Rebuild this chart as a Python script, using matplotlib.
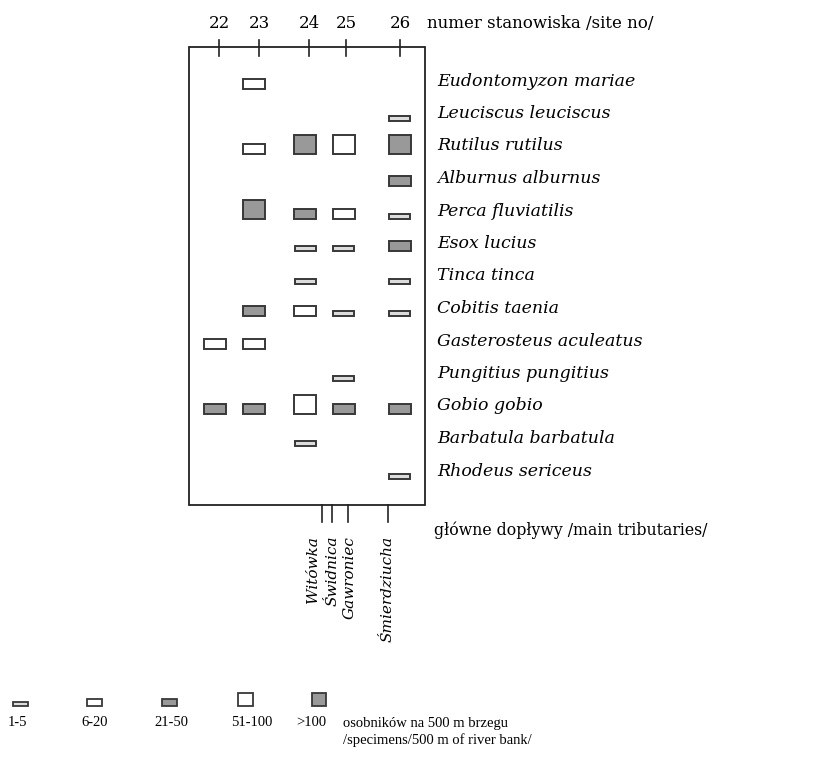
import matplotlib
matplotlib.use("Agg")
import matplotlib.pyplot as plt
from matplotlib.patches import Rectangle

# ---------------- data ----------------
sites = ["22", "23", "24", "25", "26"]
species = [
    "Eudontomyzon mariae", "Leuciscus leuciscus", "Rutilus rutilus",
    "Alburnus alburnus", "Perca fluviatilis", "Esox lucius", "Tinca tinca",
    "Cobitis taenia", "Gasterosteus aculeatus", "Pungitius pungitius",
    "Gobio gobio", "Barbatula barbatula", "Rhodeus sericeus",
]
# abundance class per site (0 = absent, 1:'1-5', 2:'6-20', 3:'21-50', 4:'51-100', 5:'>100')
eudontomyzon = [0, 2, 0, 0, 0]
leuciscus = [0, 0, 0, 0, 1]
rutilus = [0, 2, 5, 4, 5]
alburnus = [0, 0, 0, 0, 3]
perca = [0, 5, 3, 2, 1]
esox = [0, 0, 1, 1, 3]
tinca = [0, 0, 1, 0, 1]
cobitis = [0, 3, 2, 1, 1]
gasterosteus = [2, 2, 0, 0, 0]
pungitius = [0, 0, 0, 1, 0]
gobio = [3, 3, 4, 3, 3]
barbatula = [0, 0, 1, 0, 0]
rhodeus = [0, 0, 0, 0, 1]
abundance = [eudontomyzon, leuciscus, rutilus, alburnus, perca, esox, tinca,
             cobitis, gasterosteus, pungitius, gobio, barbatula, rhodeus]

class_labels = ["1-5", "6-20", "21-50", "51-100", ">100"]
tributaries = ["Witówka", "Świdnica", "Gawroniec", "Śmierdziucha"]

# ---------------- layout / style ----------------
W, H = 819, 764
site_tick_x = [219, 259, 309, 346, 400]
site_mark_x = [215, 254, 305, 343.5, 399.5]
trib_tick_x = [322, 332, 348, 388]
trib_text_x = [313, 333, 350, 388]
box = (189, 47, 425, 505)  # left, top, right, bottom


def row_bottom(i):
    return 88.5 + 32.5 * i


mark_size = {1: (21, 5), 2: (22, 10), 3: (22, 10), 4: (22, 19), 5: (22, 19)}
leg_size = {1: (15, 4), 2: (15, 7.5), 3: (15, 7.5), 4: (15, 13.5), 5: (14, 13.5)}
fills = {1: "#dcdcdc", 2: "white", 3: "#999999", 4: "white", 5: "#999999"}
edge = "#383838"
serif = "DejaVu Serif"
legend_serif = "Liberation Serif"

fig = plt.figure(figsize=(W / 100, H / 100), dpi=100)
ax = fig.add_axes([0, 0, 1, 1])
ax.set_xlim(0, W)
ax.set_ylim(H, 0)
ax.axis("off")

# main box
l, t, r, b = box
ax.add_patch(Rectangle((l, t), r - l, b - t, fill=False, edgecolor="#222222", lw=1.3))

# site ticks and labels
for x, s in zip(site_tick_x, sites):
    ax.plot([x, x], [40, 56], color="#222222", lw=1.2)
    ax.text(x, 23, s, ha="center", va="center", fontsize=12, family=serif)
ax.text(427, 23, "numer stanowiska /site no/", ha="left", va="center",
        fontsize=12, family=serif)

# markers
for i, row in enumerate(abundance):
    yb = row_bottom(i)
    for j, c in enumerate(row):
        if c == 0:
            continue
        w, h = mark_size[c]
        ax.add_patch(Rectangle((site_mark_x[j] - w / 2, yb - h), w, h,
                               facecolor=fills[c], edgecolor=edge, lw=1.4))
    ax.text(437, yb - 7.5, species[i], ha="left", va="center", fontsize=12.5,
            family=serif, style="italic")

# tributaries
for x in trib_tick_x:
    ax.plot([x, x], [b, 522], color="#222222", lw=1.2)
for x, name in zip(trib_text_x, tributaries):
    ax.text(x, 536, name, rotation=90, ha="center", va="top", fontsize=11,
            family=serif, style="italic")
ax.text(434, 530, "główne dopływy /main tributaries/", ha="left", va="center",
        fontsize=11.3, family=serif)

# legend
leg_x = [20.5, 94.5, 169.5, 245.5, 318.5]
leg_text_x = [17, 95, 171, 252, 311]
for k, (x, lab) in enumerate(zip(leg_x, class_labels), start=1):
    w, h = leg_size[k]
    ax.add_patch(Rectangle((x - w / 2, 706 - h), w, h, facecolor=fills[k],
                           edgecolor=edge, lw=1.3))
    ax.text(leg_text_x[k - 1], 723, lab, ha="center", va="center", fontsize=10.5,
            family=legend_serif)
ax.text(343, 723, "osobników na 500 m brzegu", ha="left", va="center",
        fontsize=10.5, family=legend_serif)
ax.text(343, 740, "/specimens/500 m of river bank/", ha="left", va="center",
        fontsize=10.5, family=legend_serif)

fig.savefig("out.png", dpi=100, facecolor="white")
